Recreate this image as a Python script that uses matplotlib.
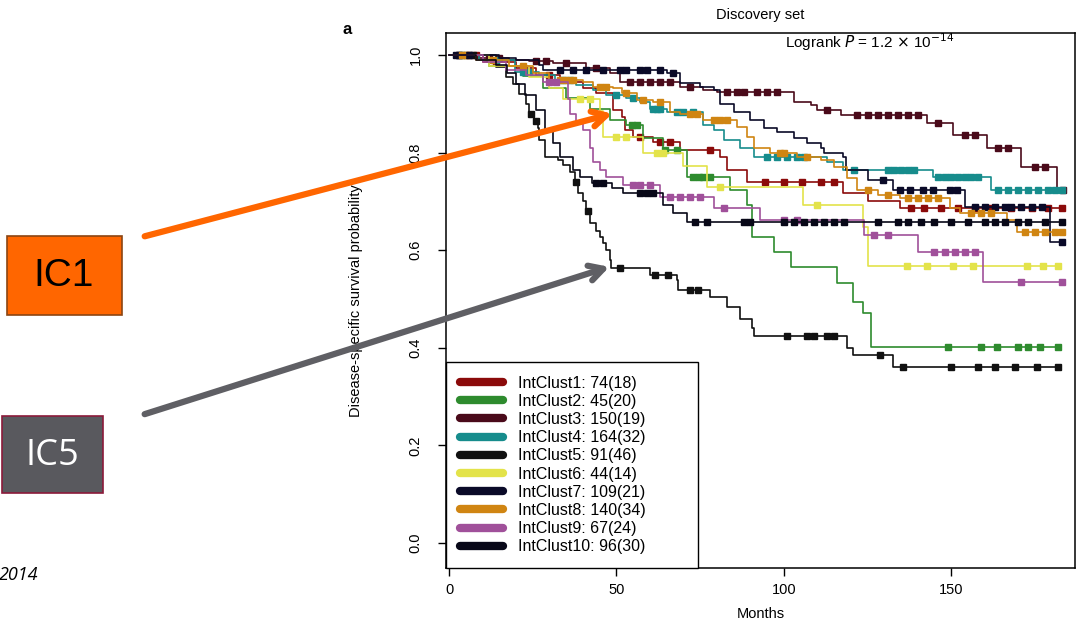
import numpy as np
import matplotlib
matplotlib.use("Agg")
import matplotlib.pyplot as plt
from matplotlib.lines import Line2D
from matplotlib.patches import Rectangle

plt.rcParams['font.family'] = ['Liberation Sans', 'DejaVu Sans']

# ---- data (months, survival) ----
names = ["IntClust1: 74(18)", "IntClust2: 45(20)", "IntClust3: 150(19)", "IntClust4: 164(32)",
         "IntClust5: 91(46)", "IntClust6: 44(14)", "IntClust7: 109(21)", "IntClust8: 140(34)",
         "IntClust9: 67(24)", "IntClust10: 96(30)"]
colors = ['#8B0A0A', '#2E8B2E', '#4A0A1A', '#168C8C', '#111111',
          '#E3E34A', '#0A0A28', '#D08512', '#A0509A', '#080818']

t1 = [10, 20, 26, 33, 40, 44, 49, 51.6, 52.5, 55, 61, 69, 81, 83, 89, 117.6, 125, 134.6]
s1 = [0.986, 0.973, 0.959, 0.945, 0.932, 0.922, 0.887, 0.873, 0.846, 0.832, 0.822, 0.805, 0.79, 0.764, 0.74, 0.717, 0.70, 0.686]
c1 = [5, 8, 14, 30, 57, 63, 66, 78, 94.5, 100, 105.5, 111, 115, 138, 142, 147, 152, 157, 162, 168, 174, 179, 183]

t2 = [12, 22, 28, 35, 42, 48, 53, 58, 64, 71, 84, 89, 90.4, 97, 102, 116, 120.6, 123.6, 126]
s2 = [0.978, 0.956, 0.933, 0.911, 0.889, 0.867, 0.857, 0.83, 0.805, 0.75, 0.723, 0.692, 0.627, 0.596, 0.566, 0.533, 0.494, 0.471, 0.402]
c2 = [54.6, 56, 64.5, 68, 73, 74.6, 76, 78, 149, 159, 163.6, 170, 173, 176.4, 182]

t3 = [8, 18, 24, 31, 41, 48, 51, 69, 76, 80, 103, 108, 110, 117, 142.7, 150.4, 160.6, 171, 181.5]
s3 = [0.993, 0.99, 0.987, 0.984, 0.973, 0.963, 0.945, 0.934, 0.928, 0.924, 0.904, 0.898, 0.887, 0.877, 0.86, 0.836, 0.81, 0.77, 0.723]
c3 = [3, 6, 12, 15, 26, 29, 35, 44, 54, 57, 60, 63, 66, 72, 83, 86, 88, 92, 95, 98, 113, 122, 125, 128,
      131, 134, 137, 140, 146, 154, 157, 164, 167, 175, 178, 183.5]

t4 = [9, 19.7, 27, 31.6, 38, 43, 47, 53, 57, 60, 65, 76, 79, 82, 87, 91, 113, 117.6, 144.5, 162]
s4 = [0.99, 0.965, 0.959, 0.949, 0.939, 0.928, 0.918, 0.912, 0.904, 0.89, 0.883, 0.857, 0.846, 0.826, 0.81, 0.79, 0.78, 0.764, 0.75, 0.723]
c4 = [4, 14, 22, 24, 34, 36, 50, 55, 61, 62, 63, 68, 70, 73, 95, 98, 101, 104, 106, 121, 131, 133, 135, 137,
      139, 146, 148, 150, 152, 154, 156, 158, 164, 167, 170, 173, 176, 179, 181, 183]

t5 = [14, 17, 19, 21, 23, 24, 25.5, 26.5, 27, 28.7, 32.5, 34, 36, 37.5, 38.5, 40, 41, 42, 44, 45, 46, 47, 48,
      48.5, 60, 68, 68.5, 78, 83, 87, 90.5, 91, 119, 120.6, 132.5]
s5 = [0.975, 0.955, 0.94, 0.92, 0.90, 0.88, 0.865, 0.85, 0.826, 0.79, 0.785, 0.775, 0.76, 0.74, 0.717, 0.70,
      0.68, 0.655, 0.64, 0.627, 0.615, 0.60, 0.58, 0.563, 0.549, 0.538, 0.518, 0.504, 0.484, 0.46, 0.44, 0.424,
      0.40, 0.385, 0.361]
c5 = [3, 7, 24.5, 26, 38, 41.5, 51, 61.5, 65.5, 72, 74.5, 101, 107, 109, 113, 115, 128.7, 135.5, 150, 158,
      163, 169, 175.5, 182]

t6 = [12, 24, 30, 34, 45, 46, 58, 70, 77, 105.7, 123.6, 125]
s6 = [0.977, 0.955, 0.932, 0.909, 0.886, 0.832, 0.80, 0.773, 0.73, 0.693, 0.647, 0.567]
c6 = [5, 39, 42, 50, 53, 62, 64, 81, 110, 136.7, 142.7, 150.4, 156.4, 172.5, 177.3, 182]

t7 = [15, 20, 27, 28, 65, 69, 75, 79, 81, 85, 90, 94, 98, 103, 107, 111, 112, 117.6, 118.7, 125, 132.5, 154, 179.4]
s7 = [0.993, 0.99, 0.98, 0.97, 0.963, 0.943, 0.934, 0.928, 0.90, 0.883, 0.867, 0.85, 0.843, 0.83, 0.82, 0.81,
      0.80, 0.79, 0.764, 0.744, 0.723, 0.689, 0.617]
c7 = [2, 6, 33, 37, 41, 46, 51, 53, 57, 59, 63, 67, 129.6, 134.6, 137.6, 141.5, 144.5, 149.5, 151.6, 157, 160,
      163, 166, 168, 171, 174, 177, 183]

t8 = [8, 18, 25, 30, 40, 43, 49, 51.6, 56, 61, 66, 69, 76, 86, 89, 91, 96, 104, 111, 115, 119, 122, 128, 134.6,
      149.5, 152.5, 166.6, 169.6]
s8 = [0.99, 0.978, 0.963, 0.949, 0.945, 0.934, 0.932, 0.922, 0.908, 0.904, 0.883, 0.88, 0.867, 0.853, 0.832,
      0.81, 0.80, 0.79, 0.785, 0.77, 0.748, 0.723, 0.713, 0.707, 0.686, 0.676, 0.662, 0.637]
c8 = [4, 13, 22, 33, 35, 37, 45, 47, 53, 58, 63, 72, 74, 79, 81, 83, 99, 100, 107, 125, 131, 137, 140, 143, 146,
      156, 159, 162, 172, 175, 178, 181, 183]

t9 = [10, 17, 23, 28, 35.5, 36, 38, 40, 42, 43, 45, 47, 52, 63, 79, 93, 124, 140, 159.4]
s9 = [0.985, 0.97, 0.958, 0.945, 0.91, 0.88, 0.865, 0.846, 0.81, 0.78, 0.765, 0.75, 0.734, 0.71, 0.686, 0.662,
      0.631, 0.596, 0.535]
c9 = [30, 32, 55, 57, 60, 66, 69, 72, 75, 82, 100, 104, 127, 131, 145, 148, 151, 154, 157, 171, 183]

t10 = [8, 14, 17.3, 20, 22.7, 26, 28.7, 31, 33, 37, 39, 42.7, 48.6, 52, 64, 67, 71]
s10 = [0.99, 0.98, 0.963, 0.94, 0.918, 0.887, 0.846, 0.82, 0.79, 0.764, 0.75, 0.738, 0.727, 0.717, 0.693, 0.676, 0.658]
c10 = [44, 46, 57, 59, 61, 73.5, 77, 88, 90, 100, 103, 106, 109, 112, 115, 118, 128, 134, 137, 141, 145, 150,
       155, 160, 163, 166, 170, 173, 178, 183]

times = [t1, t2, t3, t4, t5, t6, t7, t8, t9, t10]
survs = [s1, s2, s3, s4, s5, s6, s7, s8, s9, s10]
cens = [c1, c2, c3, c4, c5, c6, c7, c8, c9, c10]

fig = plt.figure(figsize=(10.89, 6.27), dpi=100)
ax = fig.add_axes([0.4096, 0.0941, 0.5776, 0.8533])

for t, s, c, col in zip(times, survs, cens, colors):
    tt = np.array([0] + t + [max(c)])
    ss = np.array([1.0] + s + [s[-1]])
    ax.plot(tt, ss, drawstyle='steps-post', color=col, lw=1.2)
    idx = np.searchsorted(tt, c, side='right') - 1
    ax.plot(c, ss[idx], ls='none', marker='s', ms=3.8, color=col, mec=col)

ax.set_xlim(-0.9, 187)
ax.set_ylim(-0.051, 1.045)
ax.set_xticks([0, 50, 100, 150])
ax.set_yticks([0.0, 0.2, 0.4, 0.6, 0.8, 1.0])
ax.set_yticklabels(["0.0", "0.2", "0.4", "0.6", "0.8", "1.0"], rotation=90, va='center')
ax.tick_params(axis='both', direction='out', length=6, width=1, labelsize=10.5)
ax.tick_params(axis='y', pad=11)
ax.tick_params(axis='x', pad=5)
for sp in ax.spines.values():
    sp.set_linewidth(1.1)
ax.set_xlabel("Months", fontsize=10.5, labelpad=7)
ax.set_ylabel("Disease-specific survival probability", fontsize=10.5, labelpad=33)

handles = [Line2D([0], [0], color=col, lw=6, solid_capstyle='round') for col in colors]
leg = ax.legend(handles, names, loc='lower left', bbox_to_anchor=(0, 0, 0.401, 0.38), mode='expand',
                borderaxespad=0, fontsize=11.5, labelspacing=0.2, handlelength=2.7, handletextpad=0.95,
                fancybox=False, edgecolor='black', framealpha=1, borderpad=0.85)
leg.get_frame().set_linewidth(1.0)

fig.text(760 / 1089, 1 - 15 / 627, "Discovery set", ha='center', va='center', fontsize=10.5)
fig.text(347 / 1089, 1 - 30 / 627, "a", ha='center', va='center', fontsize=12, fontweight='bold')
fig.text(785 / 1089, 1 - 42 / 627, r"Logrank $\it{P}$ = 1.2 $\times$ 10$^{-14}$", ha='left', va='center', fontsize=11)

# annotation boxes and arrows
fig.patches.append(Rectangle((7 / 1089, 1 - 315 / 627), 115 / 1089, 79 / 627, transform=fig.transFigure,
                             facecolor='#FF6600', edgecolor='#8B4513', lw=1.2))
fig.text(64 / 1089, 1 - 276 / 627, "IC1", ha='center', va='center', fontsize=28, color='black')
fig.patches.append(Rectangle((2 / 1089, 1 - 493 / 627), 101 / 1089, 77 / 627, transform=fig.transFigure,
                             facecolor='#59595E', edgecolor='#8B1A3A', lw=1.2))
fig.text(52 / 1089, 1 - 456 / 627, "IC5", ha='center', va='center', fontsize=26, color='white', family='Open Sans')

ax.annotate('', xy=(615, 627 - 113), xytext=(142, 627 - 237), xycoords='figure pixels', textcoords='figure pixels',
            arrowprops=dict(arrowstyle='->,head_length=1.0,head_width=0.55', lw=4.5, color='#FF6600'),
            annotation_clip=False, zorder=10)
ax.annotate('', xy=(612, 627 - 266), xytext=(142, 627 - 415), xycoords='figure pixels', textcoords='figure pixels',
            arrowprops=dict(arrowstyle='->,head_length=1.0,head_width=0.55', lw=4.5, color='#5F5F64'),
            annotation_clip=False, zorder=10)

fig.text(38 / 1089, 1 - 575 / 627, "2014", ha='right', va='center', fontsize=13, style='italic', family='Open Sans')

fig.savefig("out.png", dpi=100)
